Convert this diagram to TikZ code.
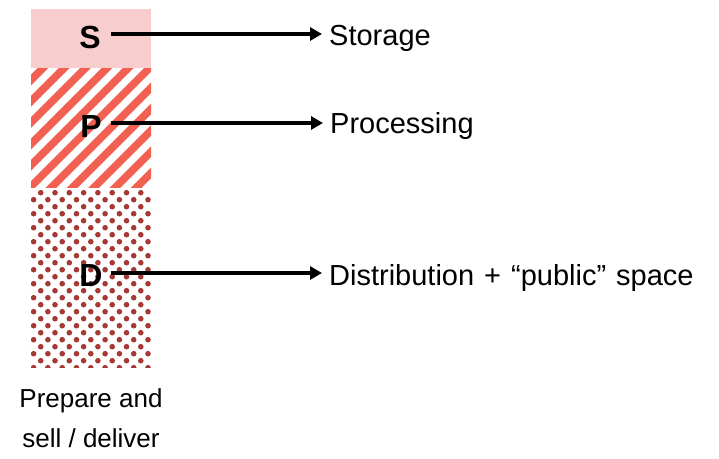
\documentclass[tikz,border=0pt]{standalone}
\usepackage{fontspec}
\setmainfont{Liberation Sans}
\usetikzlibrary{arrows.meta}
\definecolor{spink}{HTML}{F7CDCD}
\definecolor{pstripe}{HTML}{F26052}
\definecolor{ddot}{HTML}{A53A34}
\tikzset{
  letter/.style={anchor=base,inner sep=0pt,font=\fontsize{32}{36}\selectfont\bfseries},
  lbl/.style={anchor=base west,inner sep=0pt,font=\fontsize{29}{34}\selectfont},
  caption/.style={anchor=base,inner sep=0pt,font=\fontsize{26}{31}\selectfont},
  conn/.style={line width=3.2pt,-{Triangle[length=12pt,width=13pt]},shorten >=7pt},
}
\begin{document}
\begin{tikzpicture}[x=1pt,y=-1pt]
\useasboundingbox (0,0) rectangle (719,458);
% storage block
\fill[spink] (31,9) rectangle (151,68);
% processing block (stripes)
\begin{scope}
  \clip (31,68) rectangle (151,187);
  \foreach \k in {-2,...,14}{
    \draw[pstripe,line width=7.6pt] ({43-119-10+\k*21.3},{197}) -- ({43+\k*21.3+10},{58});
  }
\end{scope}
% distribution block (dots)
\begin{scope}
  \clip (31,187) rectangle (151,367);
  \foreach \j in {0,...,25}{
    \pgfmathsetmacro{\yy}{192.7+7*\j}
    \pgfmathsetmacro{\xo}{mod(\j,2)==0 ? 40.7 : 33.6}
    \foreach \i in {-1,...,9}{
      \fill[ddot] ({\xo+14.3*\i},\yy) circle (2.8);
    }
  }
\end{scope}
% letters
\node[letter] (sS) at (90,48) {S};
\node[letter] (sP) at (91,137) {P};
\node[letter] (sD) at (91,286) {D};
% labels
\node[lbl] (lS) at (329,45) {Storage};
\node[lbl] (lP) at (330,133) {Processing};
\node[lbl] (lD) at (329,285) {\spaceskip=10pt Distribution + “public” space};
% arrow start points
\coordinate (aS) at (111,34);
\coordinate (aP) at (111,123);
\coordinate (aD) at (111,273);
\draw[conn] (aS) -- (lS.west |- aS);
\draw[conn] (aP) -- (lP.west |- aP);
\draw[conn] (aD) -- (lD.west |- aD);
% caption
\node[caption] (c1) at (91,407) {Prepare and};
\node[caption] (c2) at (91,447) {sell / deliver};
\end{tikzpicture}
\end{document}
